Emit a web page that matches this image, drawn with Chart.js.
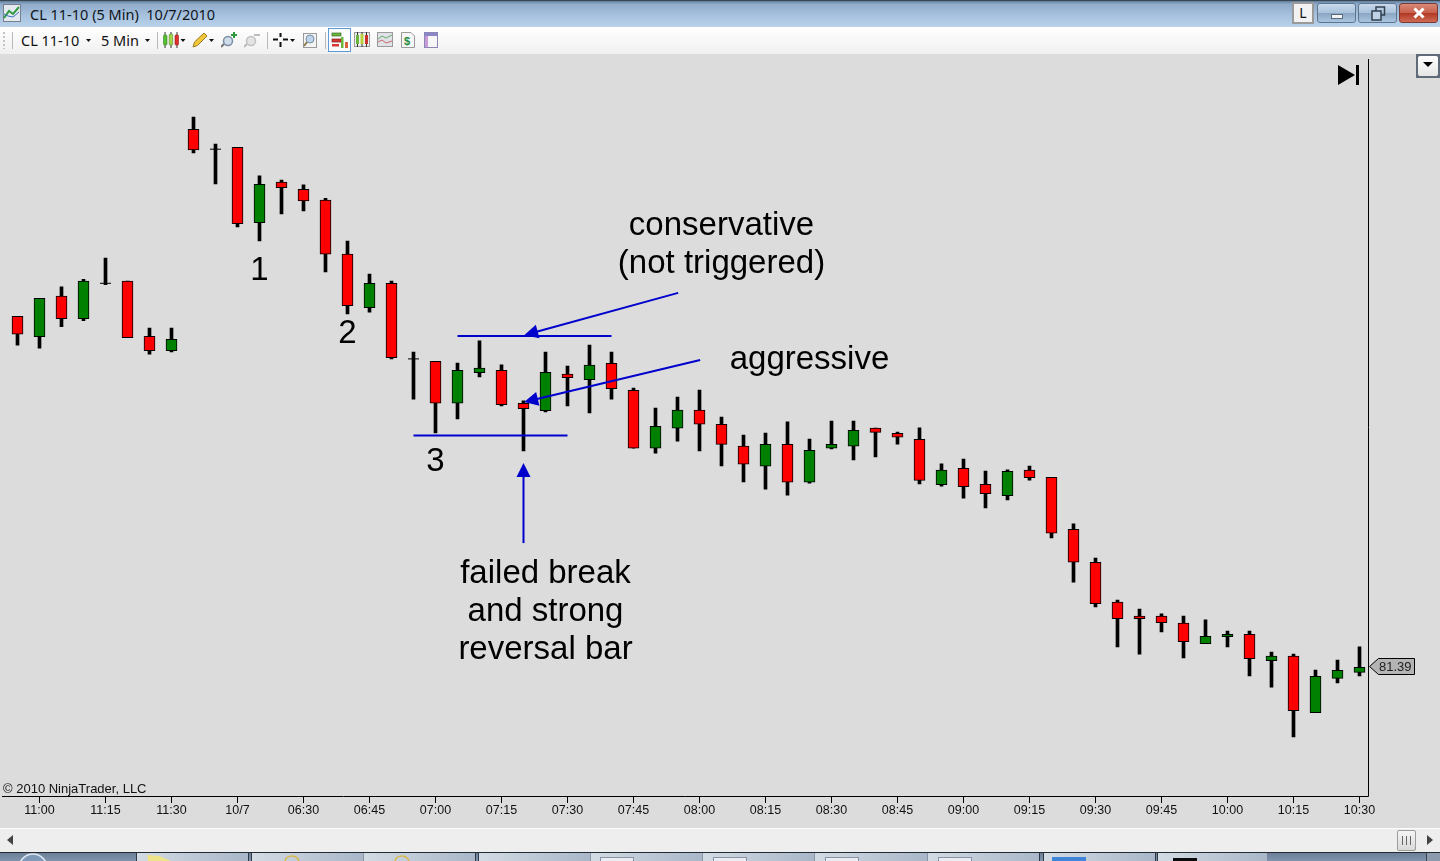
<!DOCTYPE html>
<html>
<head>
<meta charset="utf-8">
<title>CL 11-10 (5 Min)</title>
<script src="https://cdn.jsdelivr.net/npm/chart.js@4/dist/chart.umd.min.js"></script>
<style>
  html, body { margin: 0; padding: 0; width: 1440px; height: 861px; overflow: hidden; background: #dcdcdc; font-family: "Liberation Sans", Arial, sans-serif; }
  #chartBox { position: absolute; left: 0; top: 0; width: 1440px; height: 861px; }
  .abs { position: absolute; }
  #titlebar { left: 0; top: 0; width: 1440px; height: 27px; background: linear-gradient(#5f7d9c 0, #8fabc9 3px, #a6c1de 14px, #bcd4ec 27px); border-top: 1px solid #3a4652; box-sizing: border-box; }
  #titletext { left: 30px; top: 4px; font: 14.5px "Noto Sans", sans-serif; color: #10151c; white-space: pre; }
  #toolbar { left: 0; top: 27px; width: 1440px; height: 27px; background: linear-gradient(#ffffff, #f0f0f0); }
  .tooltext { top: 30px; font: 14.5px "Noto Sans", sans-serif; color: #111; }
  .sep { top: 32px; width: 1px; height: 17px; background: #b9b9b9; }
  .winbtn { top: 3px; height: 20px; border: 1px solid #5e7590; border-radius: 3px; box-sizing: border-box; background: linear-gradient(#c8daec 0, #a9c1da 50%, #8ba6c2 52%, #a9c5df 100%); }
  #scrollbar { left: 0; top: 828px; width: 1440px; height: 24px; background: #eeeeee; border-top: 1px solid #fbfbfb; box-sizing: border-box; }
  #taskbar { left: 0; top: 852px; width: 1440px; height: 9px; background: linear-gradient(#6d7f97, #8094ad); border-top: 1px solid #222a33; box-sizing: border-box; }
  .task { top: 853px; height: 8px; background: linear-gradient(90deg, #d3dbe4, #a9b7c8); border-left: 1px solid #2e3947; border-right: 1px solid #2e3947; box-sizing: border-box; }
  .winicon { top: 857px; width: 34px; height: 4px; background: #e9edf3; border: 1px solid #8a93a3; border-bottom: none; box-sizing: border-box; }
</style>
</head>
<body>
<div id="chartBox"><canvas id="candleChart" width="1440" height="861"></canvas></div>

<div class="abs" id="titlebar"></div>
<svg class="abs" style="left:3px;top:4px" width="18" height="18" viewBox="0 0 18 18">
  <rect x="0.5" y="0.5" width="17" height="17" fill="#e4e9f0" stroke="#77808c"/>
  <path d="M1 14 L6 7 L10 10 L16 3" stroke="#2f9a3f" stroke-width="2" fill="none"/>
  <path d="M1 10 L5 12 L10 13 L16 8" stroke="#3f6fc0" stroke-width="1" fill="none"/>
</svg>
<div class="abs" id="titletext">CL 11-10 (5 Min)  10/7/2010</div>
<div class="abs" style="left:1292px;top:2px;width:22px;height:22px;background:#f2f2f2;border:2px solid #9a9a9a;box-sizing:border-box;font:14px 'Noto Sans',sans-serif;text-align:center;line-height:18px;color:#111">L</div>
<div class="abs winbtn" style="left:1317px;width:39px"><div class="abs" style="left:13px;top:10px;width:12px;height:5px;background:#f2f4f6;border:1px solid #5a6a7c;box-sizing:border-box"></div></div>
<div class="abs winbtn" style="left:1358px;width:39px"><svg class="abs" style="left:12px;top:2px" width="15" height="15"><rect x="5" y="1" width="8.5" height="8" fill="none" stroke="#33404e" stroke-width="1.5"/><rect x="1" y="5" width="9" height="9" fill="#c0d2e6" stroke="#33404e" stroke-width="1.5"/></svg></div>
<div class="abs winbtn" style="left:1399px;width:39px;background:linear-gradient(#d98a78 0,#c8604d 48%,#b23a24 52%,#cf6a55 100%);border-color:#7a3b34"><svg class="abs" style="left:13px;top:3px" width="12" height="12"><path d="M1.5 1.5 L10.5 10.5 M10.5 1.5 L1.5 10.5" stroke="#fff" stroke-width="3"/></svg></div>

<div class="abs" id="toolbar"></div>
<svg class="abs" style="left:3px;top:32px" width="3" height="17"><path d="M1 0 V17" stroke="#c4c4c4" stroke-width="2" stroke-dasharray="2 2"/></svg>
<div class="abs sep" style="left:12px"></div>
<div class="abs tooltext" style="left:21px">CL 11-10</div>
<svg class="abs" style="left:86px;top:39px" width="5" height="3"><path d="M0 0 H5 L2.5 3 Z" fill="#111"/></svg>
<div class="abs tooltext" style="left:101px">5 Min</div>
<svg class="abs" style="left:145px;top:39px" width="5" height="3"><path d="M0 0 H5 L2.5 3 Z" fill="#111"/></svg>
<div class="abs sep" style="left:157px"></div>
<svg class="abs" style="left:162px;top:32px" width="24" height="16">
  <path d="M3 0 V16 M9 0 V16 M15 0 V16" stroke="#333" stroke-width="1"/>
  <rect x="1.5" y="3" width="3.5" height="10" rx="1" fill="#55c030" stroke="#3a8022" stroke-width=".6"/><rect x="7.2" y="2" width="3.5" height="11" rx="1" fill="#9fd64a" stroke="#5a8a22" stroke-width=".6"/><rect x="13" y="3" width="3.5" height="10" rx="1" fill="#e2302c" stroke="#8a1f1a" stroke-width=".6"/>
  <path d="M18.5 7 H23.5 L21 10 Z" fill="#111"/>
</svg>
<svg class="abs" style="left:192px;top:32px" width="24" height="16">
  <path d="M1 15 L2.5 10 L12 1 L15 4 L5.5 13.5 Z" fill="#f0c63a" stroke="#9a7a1c"/>
  <path d="M17 7 H22 L19.5 10 Z" fill="#111"/>
</svg>
<svg class="abs" style="left:221px;top:31px" width="17" height="17"><circle cx="7" cy="10" r="4.5" fill="#cfdcec" stroke="#7d8ea3" stroke-width="1.5"/><path d="M3 13 L0 16" stroke="#777" stroke-width="2"/><path d="M13 1 V7 M10 4 H16" stroke="#2c9a3a" stroke-width="2"/></svg>
<svg class="abs" style="left:244px;top:32px" width="17" height="16"><circle cx="7" cy="9" r="4.5" fill="#e4e4e4" stroke="#c0c0c0" stroke-width="1.5"/><path d="M3 12 L0 15" stroke="#bbb" stroke-width="2"/><path d="M10 3 H16" stroke="#bdbdbd" stroke-width="2"/></svg>
<div class="abs sep" style="left:267px"></div>
<svg class="abs" style="left:273px;top:32px" width="24" height="16">
  <path d="M7.5 1 V5 M7.5 10 V15 M0 7.5 H5 M10 7.5 H15" stroke="#111" stroke-width="2"/>
  <path d="M17 7 H22 L19.5 10 Z" fill="#111"/>
</svg>
<svg class="abs" style="left:302px;top:32px" width="16" height="17"><rect x="1.5" y="1.5" width="13" height="14" fill="#f4f4f4" stroke="#9a9a9a"/><circle cx="8" cy="7" r="4" fill="#bcd4ec" stroke="#7d8ea3"/><path d="M5 10 L2 14" stroke="#8a7a4a" stroke-width="2"/></svg>
<div class="abs sep" style="left:325px"></div>
<div class="abs" style="left:328px;top:28px;width:23px;height:24px;border:1px solid #5d9ad6;box-sizing:border-box;background:#fbfdff"></div>
<svg class="abs" style="left:331px;top:31px" width="18" height="18"><rect x="1" y="2" width="9" height="3" fill="#6ab63c" stroke="#3a6a22" stroke-width=".7"/><rect x="1" y="8" width="9" height="3" fill="#d83a32" stroke="#7a1f1a" stroke-width=".7"/><rect x="1" y="13" width="7" height="2.5" fill="#d83a32"/><rect x="10" y="6" width="2.5" height="11" fill="#6ab63c"/><rect x="14" y="11" width="3" height="6" fill="#d8603a"/></svg>
<svg class="abs" style="left:354px;top:32px" width="17" height="16"><rect x=".5" y=".5" width="15" height="14" fill="#efefef" stroke="#9a9a9a"/><path d="M3.5 0 V15 M8 0 V15 M12.5 0 V15" stroke="#333"/><rect x="2" y="3" width="3" height="9" fill="#6ab63c"/><rect x="6.5" y="2" width="3" height="10" fill="#b8d23c"/><rect x="11" y="3" width="3" height="9" fill="#c8342c"/></svg>
<svg class="abs" style="left:377px;top:32px" width="16" height="16"><rect x=".5" y=".5" width="15" height="14" fill="#dfe3e8" stroke="#9a9a9a"/><path d="M1 7 L5 4 L9 6 L15 3" stroke="#6aa86a" fill="none"/><path d="M1 10 L5 8 L9 11 L15 9" stroke="#c86a6a" fill="none"/></svg>
<svg class="abs" style="left:401px;top:32px" width="14" height="16"><path d="M.5 .5 H10 L13.5 4 V15.5 H.5 Z" fill="#f6f6f6" stroke="#9a9a9a"/><text x="3" y="13" font-size="11" font-weight="700" fill="#1f8a3a" font-family="Liberation Sans">$</text></svg>
<svg class="abs" style="left:424px;top:32px" width="15" height="16"><rect x=".5" y=".5" width="13" height="15" fill="#f6f6f6" stroke="#8a86b8"/><rect x="1" y="1" width="12" height="3" fill="#8a86c8"/><rect x="1" y="4" width="3" height="11" fill="#c89ad8"/></svg>

<svg class="abs" style="left:1338px;top:65px" width="21" height="20"><path d="M0 0 L17 10 L0 20 Z" fill="#000"/><rect x="18" y="0" width="3" height="20" fill="#000"/></svg>
<div class="abs" style="left:1416px;top:54px;width:24px;height:24px;background:#5f6b78;box-sizing:border-box;padding:2px"><div style="width:20px;height:20px;background:linear-gradient(#ffffff,#e6e6e6);border-radius:2px;position:relative"><svg class="abs" style="left:5px;top:6px" width="10" height="5"><path d="M0 0 H10 L5 5 Z" fill="#000"/></svg></div></div>

<div class="abs" id="scrollbar"></div>
<svg class="abs" style="left:7px;top:835px" width="6" height="10"><path d="M6 0 V10 L0 5 Z" fill="#444"/></svg>
<div class="abs" style="left:1397px;top:830px;width:19px;height:21px;background:linear-gradient(#f5f5f5,#d9d9d9);border:1px solid #9c9c9c;border-radius:2px;box-sizing:border-box"><svg class="abs" style="left:3px;top:5px" width="11" height="9"><path d="M1.5 0 V9 M5.5 0 V9 M9.5 0 V9" stroke="#666" stroke-width="1"/></svg></div>
<svg class="abs" style="left:1427px;top:835px" width="6" height="10"><path d="M0 0 V10 L6 5 Z" fill="#444"/></svg>

<div class="abs" id="taskbar"></div>
<svg class="abs" style="left:18px;top:853px" width="30" height="8"><circle cx="15" cy="15" r="14" fill="#7f9ab8" stroke="#dfe8f2" stroke-width="1.5"/></svg>
<div class="abs task" style="left:136px;width:113px"></div>
<svg class="abs" style="left:147px;top:855px" width="24" height="6"><path d="M0 0 L12 1 L24 6 H1 Z" fill="#efe38a"/></svg>
<div class="abs task" style="left:251px;width:113px;border-right:1px solid #8a96a6"></div>
<div class="abs task" style="left:364px;width:112px;border-left:none"></div>
<svg class="abs" style="left:283px;top:855px" width="18" height="6"><path d="M2 6 C3 0 13 -1 16 6" fill="none" stroke="#d9b84a" stroke-width="1.5"/></svg>
<svg class="abs" style="left:393px;top:855px" width="18" height="6"><path d="M2 6 C3 0 13 -1 16 6" fill="none" stroke="#d9b84a" stroke-width="1.5"/></svg>
<div class="abs task" style="left:478px;width:112px;border-right:none"></div>
<div class="abs task" style="left:590px;width:112px;border-left:1px solid #8a96a6;border-right:none"></div>
<div class="abs task" style="left:702px;width:112px;border-left:1px solid #8a96a6;border-right:none"></div>
<div class="abs task" style="left:814px;width:113px;border-left:1px solid #8a96a6;border-right:none"></div>
<div class="abs task" style="left:927px;width:113px;border-left:1px solid #8a96a6"></div>
<div class="abs winicon" style="left:600px"></div>
<div class="abs winicon" style="left:713px"></div>
<div class="abs winicon" style="left:825px"></div>
<div class="abs winicon" style="left:938px"></div>
<div class="abs task" style="left:1043px;width:113px"></div>
<div class="abs" style="left:1052px;top:857px;width:34px;height:4px;background:#3f86d8"></div>
<div class="abs task" style="left:1157px;width:110px;border-right:none"></div>
<div class="abs" style="left:1173px;top:858px;width:24px;height:3px;background:#0c0c0c"></div>
<div class="abs" style="left:1426px;top:853px;width:14px;height:8px;background:#8c9aae;border-left:1px solid #39444f;box-sizing:border-box"></div>

<script>
// session bars, one every 5 minutes. Only every third one carries a label on the axis
const categories = ['10:55','11:00','11:05','11:10','11:15','11:20','11:25','11:30','11:35','06:10','10/7','06:20','06:25','06:30','06:35','06:40','06:45','06:50','06:55','07:00','07:05','07:10','07:15','07:20','07:25','07:30','07:35','07:40','07:45','07:50','07:55','08:00','08:05','08:10','08:15','08:20','08:25','08:30','08:35','08:40','08:45','08:50','08:55','09:00','09:05','09:10','09:15','09:20','09:25','09:30','09:35','09:40','09:45','09:50','09:55','10:00','10:05','10:10','10:15','10:20','10:25','10:30'];

const opens = [82.560,82.492,82.627,82.552,82.670,82.677,82.493,82.445,83.183,83.117,83.123,82.872,83.007,82.983,82.947,82.767,82.589,82.670,82.418,82.410,82.270,82.372,82.380,82.270,82.245,82.367,82.349,82.403,82.313,82.120,82.187,82.247,82.200,82.127,82.060,82.133,82.007,82.120,82.127,82.187,82.170,82.150,81.999,82.053,82.000,81.962,82.047,82.023,81.850,81.740,81.607,81.561,81.561,81.537,81.469,81.492,81.500,81.412,81.427,81.239,81.353,81.373];
const highs = [82.560,82.620,82.658,82.683,82.754,82.677,82.521,82.521,83.224,83.134,83.123,83.028,83.014,82.998,82.953,82.811,82.701,82.677,82.441,82.410,82.404,82.478,82.398,82.278,82.441,82.394,82.464,82.441,82.321,82.254,82.291,82.314,82.224,82.164,82.171,82.208,82.151,82.211,82.211,82.187,82.174,82.188,82.068,82.084,82.044,82.048,82.061,82.023,81.868,81.754,81.614,81.584,81.568,81.561,81.548,81.511,81.511,81.441,81.434,81.381,81.414,81.458];
const lows = [82.464,82.454,82.525,82.545,82.665,82.489,82.434,82.441,83.105,83.001,82.858,82.811,82.901,82.911,82.708,82.568,82.574,82.418,82.284,82.171,82.218,82.358,82.261,82.111,82.241,82.261,82.238,82.284,82.120,82.104,82.144,82.111,82.061,82.008,81.984,81.964,82.004,82.118,82.081,82.091,82.134,82.001,81.994,81.954,81.921,81.948,82.014,81.821,81.674,81.591,81.458,81.434,81.508,81.421,81.469,81.458,81.361,81.324,81.158,81.239,81.338,81.361];
const closes = [82.500,82.620,82.552,82.677,82.670,82.489,82.445,82.483,83.115,83.117,82.869,83.000,82.989,82.945,82.767,82.595,82.670,82.422,82.418,82.270,82.380,82.387,82.265,82.252,82.373,82.355,82.397,82.319,82.120,82.193,82.247,82.200,82.133,82.067,82.133,82.007,82.113,82.133,82.180,82.173,82.157,82.013,82.047,81.992,81.969,82.043,82.022,81.837,81.740,81.602,81.552,81.552,81.539,81.475,81.493,81.500,81.419,81.427,81.245,81.360,81.380,81.390];

// the trader's marks drawn on top of the chart, as [bar index, price]
const triggerLines = [
  [[20, 82.494], [27, 82.494]],
  [[18, 82.163], [25, 82.163]]
];
const arrows = [
  [[30.03, 82.638], [23.03, 82.497]],
  [[31.03, 82.414], [23.03, 82.274]],
  [[23, 81.804], [23, 82.071]]
];
const notes = [
  ['conservative', 32, 82.860],
  ['(not triggered)', 32, 82.733],
  ['aggressive', 36, 82.413],
  ['failed break', 24, 81.701],
  ['and strong', 24, 81.574],
  ['reversal bar', 24, 81.448],
  ['1', 11, 82.710],
  ['2', 15, 82.500],
  ['3', 19, 82.074]
];
const lastPrice = closes[closes.length - 1];

const BLUE = '#0000cd';

const isDoji = i => opens[i] === closes[i];

const overlayPlugin = {
  id: 'overlay',
  afterDatasetsDraw(chart) {
    const { ctx, scales: { x, y }, chartArea } = chart;
    ctx.save();

    // frame: bottom and right axis lines
    ctx.strokeStyle = '#000';
    ctx.lineWidth = 1;
    ctx.beginPath();
    ctx.moveTo(2, chartArea.bottom - 0.5);
    ctx.lineTo(1368.5, chartArea.bottom - 0.5);
    ctx.lineTo(1368.5, 59);
    ctx.stroke();

    arrows.forEach(([from, to]) => {
      const x1 = x.getPixelForValue(from[0]), y1 = y.getPixelForValue(from[1]);
      const x2 = x.getPixelForValue(to[0]), y2 = y.getPixelForValue(to[1]);
      const a = Math.atan2(y2 - y1, x2 - x1);
      ctx.strokeStyle = BLUE;
      ctx.fillStyle = BLUE;
      ctx.lineWidth = 2;
      ctx.beginPath();
      ctx.moveTo(x1, y1);
      ctx.lineTo(x2 - 10 * Math.cos(a), y2 - 10 * Math.sin(a));
      ctx.stroke();
      ctx.beginPath();
      ctx.moveTo(x2, y2);
      ctx.lineTo(x2 - 14 * Math.cos(a) - 7 * Math.sin(a), y2 - 14 * Math.sin(a) + 7 * Math.cos(a));
      ctx.lineTo(x2 - 14 * Math.cos(a) + 7 * Math.sin(a), y2 - 14 * Math.sin(a) - 7 * Math.cos(a));
      ctx.closePath();
      ctx.fill();
    });

    ctx.fillStyle = '#000';
    ctx.font = '33px "Liberation Sans"';
    ctx.textAlign = 'center';
    ctx.textBaseline = 'middle';
    notes.forEach(([text, i, price]) => {
      ctx.fillText(text, x.getPixelForValue(i), y.getPixelForValue(price));
    });

    ctx.font = '13px "Liberation Sans"';
    ctx.textAlign = 'left';
    ctx.fillStyle = '#111';
    ctx.fillText('\u00a9 2010 NinjaTrader, LLC', 3, chartArea.bottom - 8);

    // last price tag on the right edge
    const py = Math.round(y.getPixelForValue(lastPrice));
    ctx.fillStyle = '#b4b4b4';
    ctx.strokeStyle = '#000';
    ctx.lineWidth = 1;
    ctx.beginPath();
    ctx.moveTo(1369.5, py - 0.5);
    ctx.lineTo(1378.5, py - 8.5);
    ctx.lineTo(1414.5, py - 8.5);
    ctx.lineTo(1414.5, py + 7.5);
    ctx.lineTo(1378.5, py + 7.5);
    ctx.closePath();
    ctx.fill();
    ctx.stroke();
    ctx.fillStyle = '#222';
    ctx.font = '13px "Liberation Sans"';
    ctx.fillText(lastPrice.toFixed(2), 1379, py);
    ctx.restore();
  }
};

new Chart(document.getElementById('candleChart'), {
  data: {
    labels: categories,
    datasets: [
      {
        // wicks
        type: 'bar',
        data: lows.map((l, i) => [l, highs[i]]),
        backgroundColor: '#000',
        borderWidth: 0,
        barThickness: 3,
        grouped: false,
        order: 3
      },
      {
        // bodies
        type: 'bar',
        data: opens.map((o, i) => [o, closes[i]]),
        backgroundColor: opens.map((o, i) => closes[i] > o ? '#008000' : '#ff0000'),
        borderColor: '#000',
        borderWidth: 1,
        borderSkipped: false,
        barThickness: 11,
        grouped: false,
        order: 2
      },
      {
        // open == close, the body is only a line
        type: 'line',
        data: opens.map((o, i) => isDoji(i) ? o : null),
        showLine: false,
        pointStyle: 'line',
        pointRadius: 5.5,
        pointBorderColor: '#000',
        pointBorderWidth: 1,
        order: 1
      },
      ...triggerLines.map(line => ({
        type: 'line',
        data: categories.map((c, i) => {
          const start = line[0][0], end = line[1][0];
          return i >= start && i <= end ? line[0][1] : null;
        }),
        borderColor: BLUE,
        borderWidth: 2,
        pointRadius: 0,
        order: 0
      }))
    ]
  },
  options: {
    responsive: false,
    animation: false,
    events: [],
    layout: { padding: { left: 6.5, right: 69.5, top: 55, bottom: 0 } },
    plugins: { legend: { display: false }, tooltip: { enabled: false } },
    scales: {
      x: {
        type: 'category',
        offset: true,
        border: { display: false },
        grid: { offset: false, drawOnChartArea: false, drawTicks: true, tickLength: 6, tickColor: '#000', tickWidth: 1 },
        afterBuildTicks: scale => { scale.ticks = scale.ticks.filter(t => t.value % 3 === 1); },
        afterFit: scale => { scale.height = 64; },
        ticks: {
          autoSkip: false,
          maxRotation: 0,
          color: '#111',
          padding: 0,
          font: { family: '"Liberation Sans"', size: 12.5 },
          callback: function (value) { return categories[value]; }
        }
      },
      y: {
        display: false,
        min: 80.9576,
        max: 83.431
      }
    }
  },
  plugins: [overlayPlugin]
});
</script>
</body>
</html>
